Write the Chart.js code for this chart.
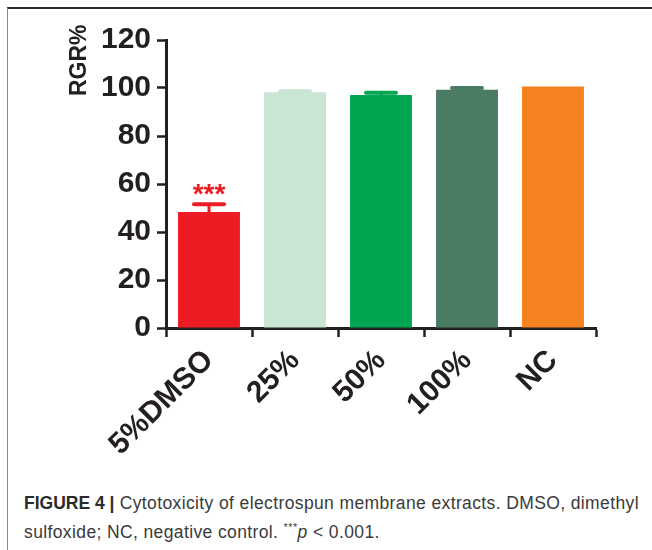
<!DOCTYPE html>
<html>
<head>
<meta charset="utf-8">
<script src="https://cdn.jsdelivr.net/npm/chart.js@4.4.1/dist/chart.umd.min.js"></script>
<style>
    html, body { margin: 0; padding: 0; background: #fff; }
    body { width: 652px; height: 550px; position: relative; overflow: hidden; font-family: 'Liberation Sans', Arial, sans-serif; }
    #frame { position: absolute; left: 7px; top: 7px; right: 0; bottom: 0; border-top: 2px solid #2b2b2b; border-left: 1px solid #8a8a8a; }
    #wrap { position: absolute; left: 0; top: 0; width: 652px; height: 470px; }
    #caption { position: absolute; left: 24px; top: 491px; white-space: nowrap; font-size: 17.5px; letter-spacing: 0.38px; line-height: 24px; color: #3a3a3a; }
    #caption b { color: #2b2b2b; letter-spacing: 0; }
</style>
</head>
<body>
<div id="frame"></div>
<div id="wrap"><canvas id="rgrChart" width="652" height="470"></canvas></div>
<div id="caption"><b>FIGURE 4 |</b> Cytotoxicity of electrospun membrane extracts. DMSO, dimethyl<br>sulfoxide; NC, negative control. <sup style="font-size:11px">***</sup><i>p</i> &lt; 0.001.</div>

<script>
// ============================================
// DATA
// ============================================
const categories   = ['5%DMSO', '25%', '50%', '100%', 'NC']
const rgrMeans     = [48.3, 98.2, 97.1, 99.3, 100.6]
const rgrErrors    = [3.3, 0.4, 0.9, 0.7, 0]
const significance = ['***', '', '', '', '']
const yMin = 0, yMax = 120, yStep = 20
const barColors = ['#ED1C24', '#C9E5D3', '#00A651', '#4A7C63', '#F58220']

const INK  = '#231F20'
const FONT = "'Liberation Sans', Arial, sans-serif"

// ============================================
// ERROR BARS + STARS
// ============================================
const errorBars = {
    id: 'errorBars',
    afterDatasetsDraw(chart) {
        const { ctx } = chart
        const y = chart.scales.y
        const meta = chart.getDatasetMeta(0)
        meta.data.forEach((bar, i) => {
            const top = y.getPixelForValue(rgrMeans[i] + rgrErrors[i])
            const base = y.getPixelForValue(rgrMeans[i])
            ctx.save()
            ctx.strokeStyle = barColors[i]
            if (rgrErrors[i] > 0) {
                ctx.lineWidth = 3
                ctx.beginPath()
                ctx.moveTo(bar.x, base)
                ctx.lineTo(bar.x, top)
                ctx.stroke()
                ctx.lineWidth = 4
                ctx.lineCap = 'round'
                ctx.beginPath()
                ctx.moveTo(bar.x - 15, top)
                ctx.lineTo(bar.x + 15, top)
                ctx.stroke()
            }
            if (significance[i]) {
                ctx.fillStyle = barColors[i]
                ctx.font = `bold 28px ${FONT}`
                ctx.textAlign = 'center'
                ctx.textBaseline = 'alphabetic'
                ctx.fillText(significance[i], bar.x, top - 1)
            }
            ctx.restore()
        })
    }
}

// y-axis title sits at the top of the axis, not centred
const axisTitle = {
    id: 'axisTitle',
    afterDraw(chart) {
        const { ctx } = chart
        ctx.save()
        ctx.translate(80, 96)
        ctx.rotate(-Math.PI / 2)
        ctx.fillStyle = INK
        ctx.font = `bold 23px ${FONT}`
        ctx.textAlign = 'left'
        ctx.textBaseline = 'middle'
        ctx.fillText('RGR%', 0, 0)
        ctx.restore()
    }
}

// ============================================
// CHART
// ============================================
new Chart(document.getElementById('rgrChart'), {
    type: 'bar',
    data: {
        labels: categories,
        datasets: [{
            data: rgrMeans,
            backgroundColor: barColors,
            borderWidth: 0,
            barPercentage: 0.72,
            categoryPercentage: 1
        }]
    },
    options: {
        responsive: false,
        animation: false,
        layout: { padding: { top: 40, right: 56, left: 0, bottom: 0 } },
        plugins: {
            legend: { display: false },
            tooltip: { enabled: false }
        },
        scales: {
            x: {
                afterFit: (s) => { s.height = 142 },
                border: { display: true, color: INK, width: 3 },
                grid: { drawOnChartArea: false, drawTicks: true, tickLength: 9, tickWidth: 2.5, tickColor: INK },
                ticks: {
                    color: INK,
                    font: { family: FONT, size: 30, weight: 'bold' },
                    minRotation: 45, maxRotation: 45,
                    padding: 6
                }
            },
            y: {
                min: yMin, max: yMax,
                afterFit: (s) => { s.width = 166 },
                border: { display: true, color: INK, width: 3 },
                grid: { drawOnChartArea: false, drawTicks: true, tickLength: 9, tickWidth: 2.5, tickColor: INK },
                ticks: {
                    stepSize: yStep,
                    color: INK,
                    font: { family: FONT, size: 30, weight: 'bold' },
                    padding: 6
                }
            }
        }
    },
    plugins: [errorBars, axisTitle]
})
</script>
</body>
</html>
